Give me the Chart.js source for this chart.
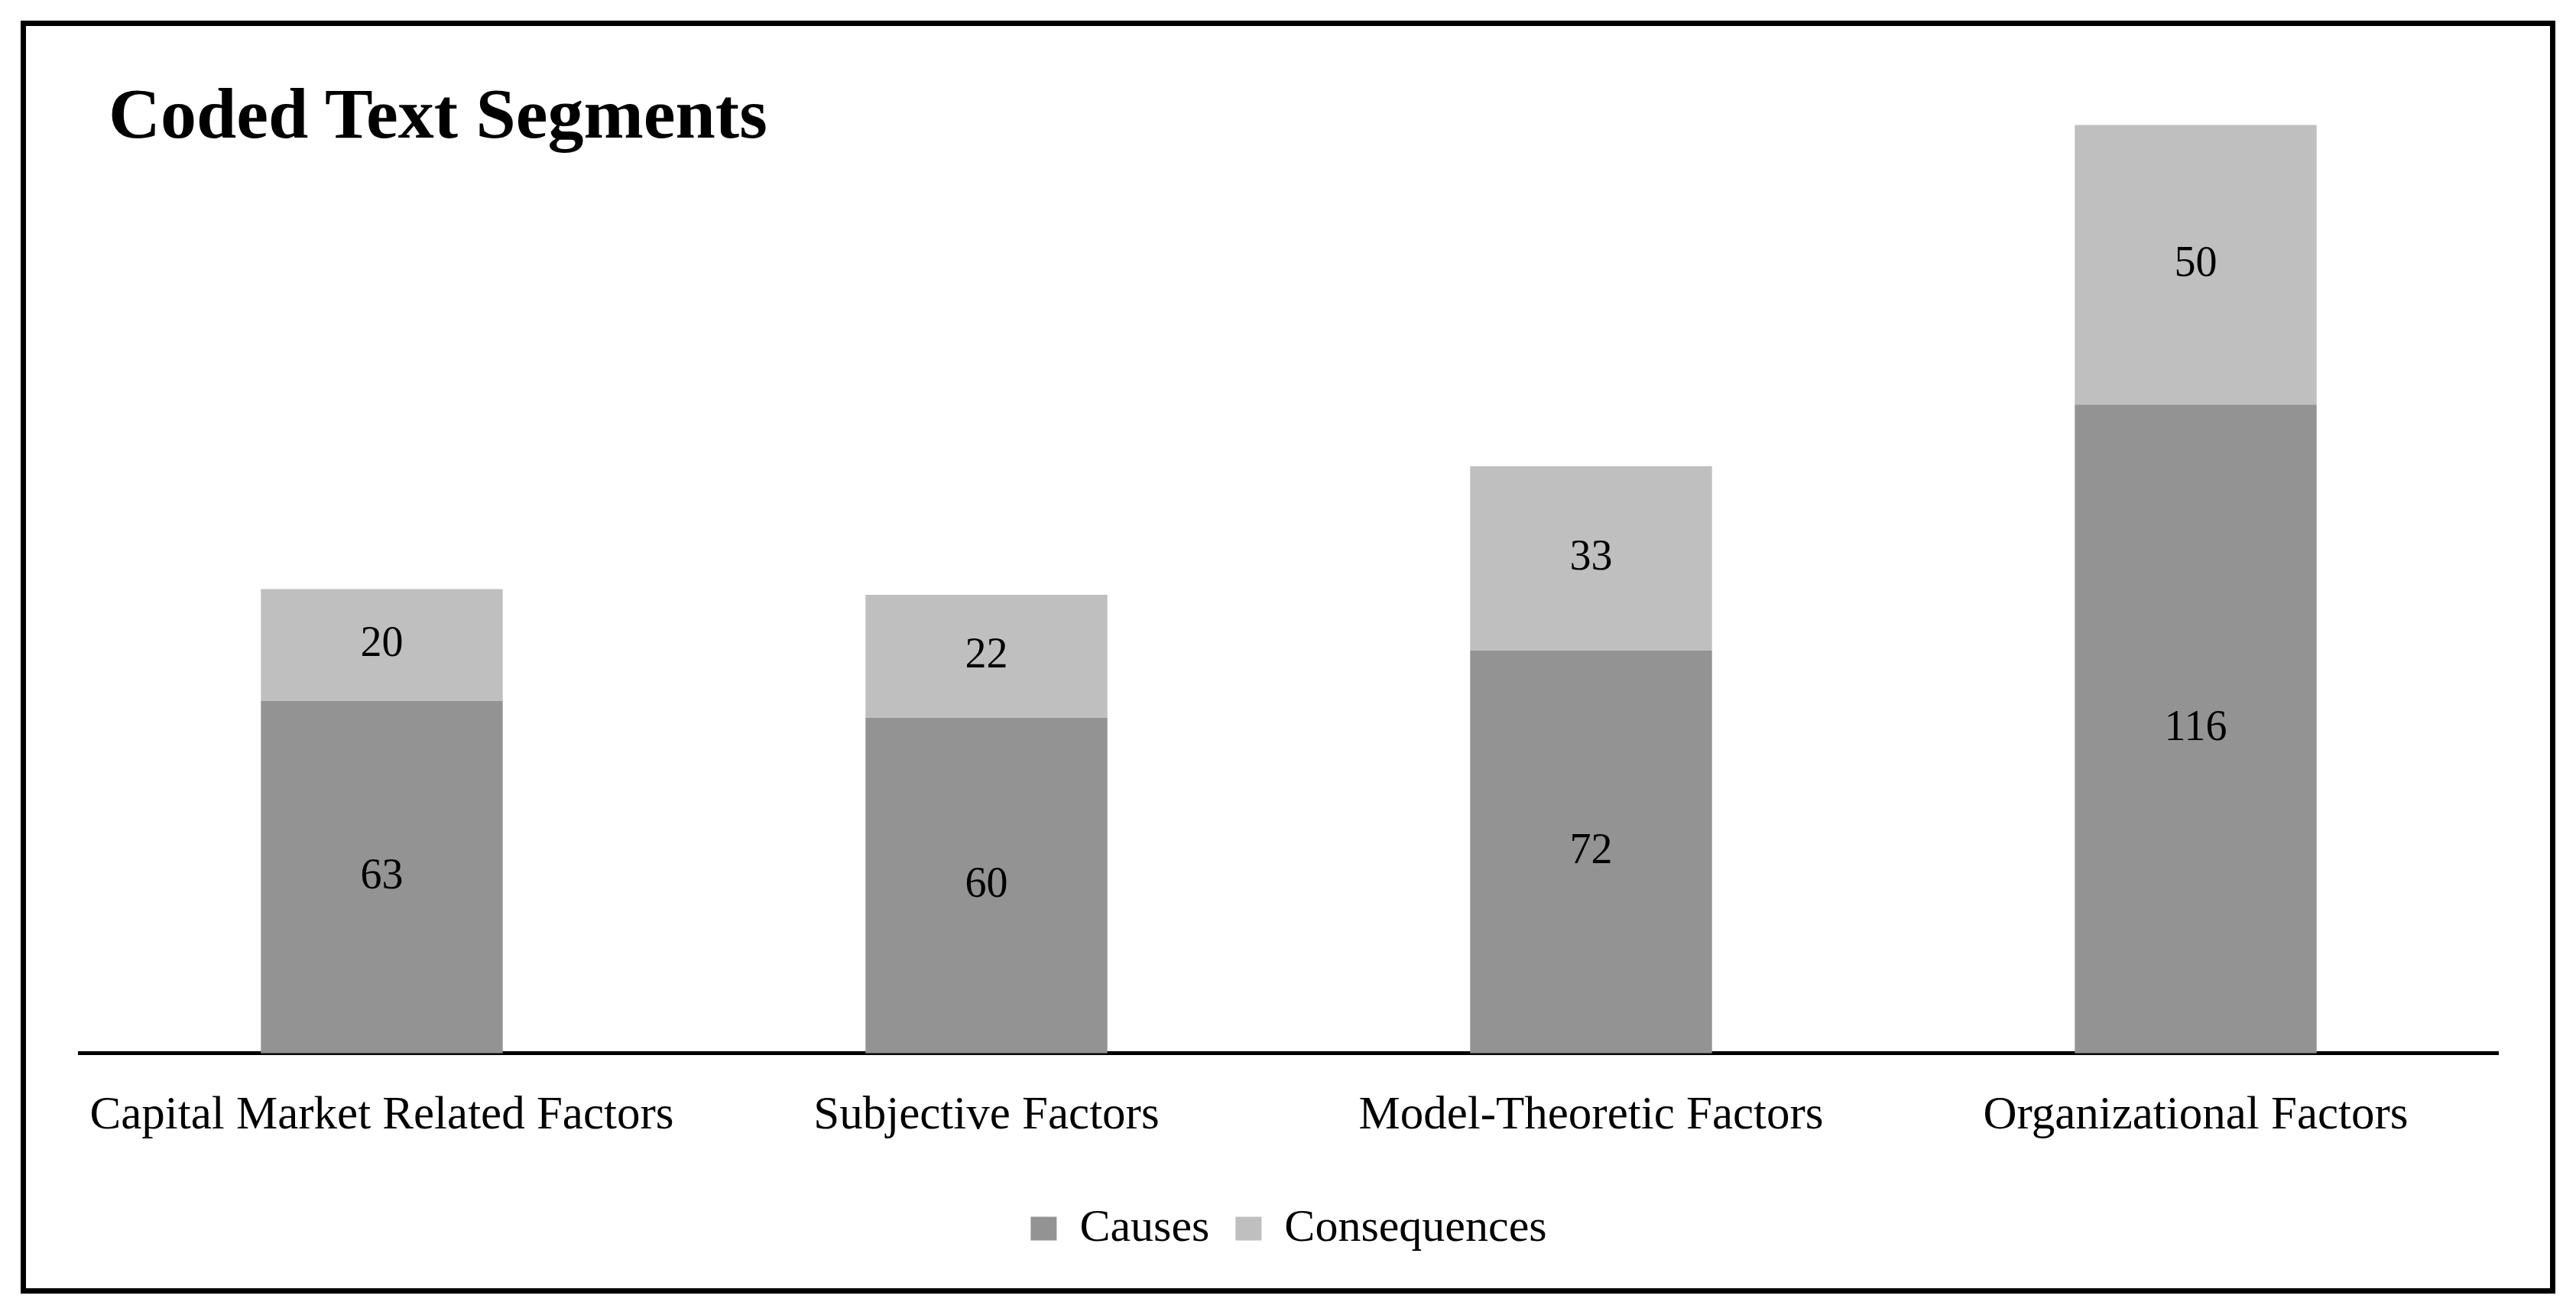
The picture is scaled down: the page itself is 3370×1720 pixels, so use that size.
<!DOCTYPE html>
<html>
<head>
<meta charset="utf-8">
<script src="https://cdn.jsdelivr.net/npm/chart.js@4"></script>
<style>
  html, body { margin: 0; padding: 0; background: #fff; }
  #wrap { position: relative; width: 3370px; height: 1720px; }
  #frame {
    position: absolute; left: 27px; top: 27px; width: 3316px; height: 1665px;
    border: 7px solid #000; box-sizing: border-box; pointer-events: none;
  }
  #title {
    position: absolute; left: 142px; top: 92px; margin: 0;
    font: bold 94px "Liberation Serif", serif; color: #000; line-height: 1.2;
  }
</style>
</head>
<body>
<div id="wrap">
  <canvas id="chart"></canvas>
  <div id="frame"></div>
  <h1 id="title">Coded Text Segments</h1>
</div>
<script>
// 数据
const categories = ['Capital Market Related Factors', 'Subjective Factors', 'Model-Theoretic Factors', 'Organizational Factors'];
const causes = [63, 60, 72, 116];
const consequences = [20, 22, 33, 50];

const FONT = '"Liberation Serif", serif';

// 在每段柱子中间写数值
const valueLabels = {
  id: 'valueLabels',
  afterDatasetsDraw(chart) {
    const ctx = chart.ctx;
    ctx.save();
    ctx.font = `56px ${FONT}`;
    ctx.fillStyle = '#000';
    ctx.textAlign = 'center';
    ctx.textBaseline = 'middle';
    chart.data.datasets.forEach((ds, i) => {
      chart.getDatasetMeta(i).data.forEach((bar, j) => {
        const { x, y, base } = bar.getProps(['x', 'y', 'base'], true);
        ctx.fillText(String(ds.data[j]), x, (y + base) / 2);
      });
    });
    ctx.restore();
  }
};

new Chart(document.getElementById('chart'), {
  type: 'bar',
  data: {
    labels: categories,
    datasets: [
      { label: 'Causes', data: causes, backgroundColor: '#939393' },
      { label: 'Consequences', data: consequences, backgroundColor: '#bfbfbf' }
    ]
  },
  options: {
    responsive: true,
    maintainAspectRatio: false,
    animation: false,
    layout: { padding: { left: 104, right: 102, top: 61, bottom: 73 } },
    datasets: { bar: { categoryPercentage: 1, barPercentage: 0.4 } },
    scales: {
      x: {
        stacked: true,
        grid: { display: false, drawTicks: false },
        border: { display: true, color: '#000', width: 5 },
        ticks: { color: '#000', padding: 46, font: { family: FONT, size: 61 } }
      },
      y: {
        stacked: true,
        display: false,
        min: 0,
        max: 180
      }
    },
    plugins: {
      legend: {
        position: 'bottom',
        labels: {
          color: '#000',
          boxWidth: 34,
          boxHeight: 31,
          padding: 34,
          font: { family: FONT, size: 60 }
        }
      },
      tooltip: { enabled: false }
    }
  },
  plugins: [valueLabels]
});
</script>
</body>
</html>
